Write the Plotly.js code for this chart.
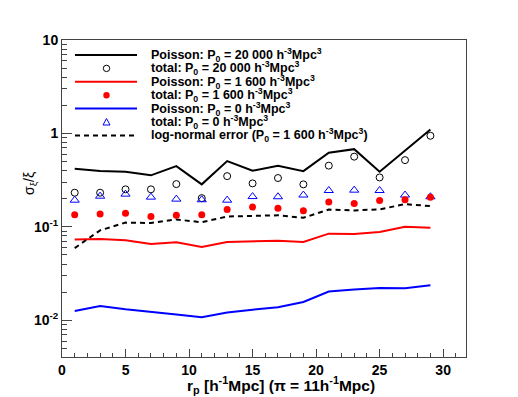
<!DOCTYPE html>
<html>
<head>
<meta charset="utf-8">
<script src="https://cdn.plot.ly/plotly-3.0.1.min.js"></script>
<style>html,body{margin:0;padding:0;background:#fff;}#chart{width:518px;height:397px;}</style>
</head>
<body>
<div id="chart"></div>
<script>
// ---- data ----
const rp = [1, 3, 5, 7, 9, 11, 13, 15, 17, 19, 21, 23, 25, 27, 29];
const poisson20000 = [0.419, 0.395, 0.389, 0.356, 0.447, 0.285, 0.506, 0.399, 0.452, 0.395, 0.622, 0.679, 0.389, 0.658, 1.10];
const total20000   = [0.232, 0.232, 0.252, 0.252, 0.287, 0.203, 0.349, 0.292, 0.333, 0.285, 0.452, 0.564, 0.338, 0.518, 0.944];
const poisson1600  = [0.0730, 0.0741, 0.0717, 0.0655, 0.0683, 0.0608, 0.0688, 0.0695, 0.0712, 0.0688, 0.0846, 0.0838, 0.0880, 0.1005, 0.0980];
const total1600    = [0.135, 0.137, 0.140, 0.129, 0.133, 0.135, 0.153, 0.163, 0.158, 0.149, 0.184, 0.178, 0.192, 0.195, 0.207];
const poisson0     = [0.0126, 0.0142, 0.0131, 0.0122, 0.0115, 0.0108, 0.0121, 0.0130, 0.0138, 0.0157, 0.0203, 0.0213, 0.0221, 0.0220, 0.0237];
const total0       = [0.193, 0.213, 0.224, 0.208, 0.198, 0.195, 0.193, 0.211, 0.210, 0.219, 0.245, 0.247, 0.245, 0.219, 0.210];
const lognormal1600 = [0.0593, 0.0918, 0.111, 0.110, 0.120, 0.112, 0.129, 0.130, 0.133, 0.125, 0.153, 0.150, 0.154, 0.175, 0.167];

const legendLabels = [
  'Poisson: P<sub>0</sub> = 20 000 h<sup>-3</sup>Mpc<sup>3</sup>',
  'total: P<sub>0</sub> = 20 000 h<sup>-3</sup>Mpc<sup>3</sup>',
  'Poisson: P<sub>0</sub> = 1 600 h<sup>-3</sup>Mpc<sup>3</sup>',
  'total: P<sub>0</sub> = 1 600 h<sup>-3</sup>Mpc<sup>3</sup>',
  'Poisson: P<sub>0</sub> = 0 h<sup>-3</sup>Mpc<sup>3</sup>',
  'total: P<sub>0</sub> = 0 h<sup>-3</sup>Mpc<sup>3</sup>',
  'log-normal error (P<sub>0</sub> = 1 600 h<sup>-3</sup>Mpc<sup>3</sup>)'
];
const yTickVals = [0.01, 0.1, 1, 10];
const yTickText = ['10<sup>-2</sup>', '10<sup>-1</sup>', '1', '10'];
const xTickVals = [0, 5, 10, 15, 20, 25, 30];
const xTitle = '<b>r<sub>p</sub> [h<sup>-1</sup>Mpc] (π = 11h<sup>-1</sup>Mpc)</b>';
const yTitle = 'σ<sub>ξ</sub>/ξ';

// ---- styling / layout ----
const W = 518, H = 397;
const M = {l: 62, r: 52, t: 40, b: 40};
const PW = W - M.l - M.r, PH = H - M.t - M.b;
const px2x = p => (p - M.l) / PW;
const py2y = p => 1 - (p - M.t) / PH;
const FONT = 'Liberation Sans, Arial, Helvetica, sans-serif';

const traces = [
  {x: rp, y: poisson20000, mode: 'lines', line: {color: '#000', width: 2}},
  {x: rp, y: poisson1600, mode: 'lines', line: {color: '#ff0000', width: 2}},
  {x: rp, y: poisson0, mode: 'lines', line: {color: '#0000ff', width: 2}},
  {x: rp, y: lognormal1600, mode: 'lines', line: {color: '#000', width: 2, dash: '5px,4px'}},
  {x: rp, y: total20000, mode: 'markers', marker: {symbol: 'circle-open', size: 7, color: '#000', line: {width: 1}}},
  {x: rp, y: total0, mode: 'markers', marker: {symbol: 'triangle-up-open', size: 8, color: '#0000ff', line: {width: 1}}},
  {x: rp, y: total1600, mode: 'markers', marker: {symbol: 'circle', size: 7, color: '#ff0000', line: {width: 0}}}
];
traces.forEach(t => { t.type = 'scatter'; t.showlegend = false; t.hoverinfo = 'skip'; });

// minor ticks for log axis
const yMinor = [];
[0.001, 0.01, 0.1, 1].forEach(d => { for (let k = 2; k <= 9; k++) yMinor.push(d * k); });
const xMinor = [];
for (let k = 0; k <= 31; k++) xMinor.push(k);

// custom compact legend
const shapes = [];
const annotations = [];
const rowY0 = 55, rowDY = 13.4;
const lineX0 = 75, lineX1 = 137, symX = 106.5, textX = 150;
const legendKinds = [
  {kind: 'line', color: '#000', dash: 'solid'},
  {kind: 'circle-open', color: '#000'},
  {kind: 'line', color: '#ff0000', dash: 'solid'},
  {kind: 'circle', color: '#ff0000'},
  {kind: 'line', color: '#0000ff', dash: 'solid'},
  {kind: 'triangle', color: '#0000ff'},
  {kind: 'line', color: '#000', dash: '5px,4px'}
];
legendKinds.forEach((k, i) => {
  const py = rowY0 + i * rowDY;
  if (k.kind === 'line') {
    shapes.push({type: 'line', xref: 'paper', yref: 'paper', x0: px2x(lineX0), x1: px2x(lineX1), y0: py2y(py), y1: py2y(py),
      line: {color: k.color, width: 2, dash: k.dash}});
  } else if (k.kind === 'triangle') {
    shapes.push({type: 'path', xref: 'paper', yref: 'paper', xsizemode: 'pixel', ysizemode: 'pixel',
      xanchor: px2x(symX), yanchor: py2y(py), path: 'M -3.5 -3 L 3.5 -3 L 0 3.5 Z',
      line: {color: k.color, width: 1}, fillcolor: 'rgba(0,0,0,0)'});
  } else {
    shapes.push({type: 'circle', xref: 'paper', yref: 'paper', xsizemode: 'pixel', ysizemode: 'pixel',
      xanchor: px2x(symX), yanchor: py2y(py), x0: -3.2, x1: 3.2, y0: -3.2, y1: 3.2,
      line: {color: k.color, width: k.kind === 'circle' ? 0 : 1},
      fillcolor: k.kind === 'circle' ? k.color : 'rgba(0,0,0,0)'});
  }
  annotations.push({text: legendLabels[i], xref: 'paper', yref: 'paper', x: px2x(textX), y: py2y(py),
    xanchor: 'left', yanchor: 'middle', showarrow: false, borderpad: 0,
    font: {family: FONT, size: 12.5, color: '#000', weight: 'bold'}});
});
annotations.push({text: xTitle, xref: 'paper', yref: 'paper', x: px2x(281), y: py2y(385),
  xanchor: 'center', yanchor: 'middle', showarrow: false, font: {family: FONT, size: 15.5, color: '#000'}});
annotations.push({text: yTitle, xref: 'paper', yref: 'paper', x: px2x(30), y: py2y(184), textangle: -90,
  xanchor: 'center', yanchor: 'middle', showarrow: false, font: {family: FONT, size: 14, color: '#000'}});

const layout = {
  width: W, height: H,
  margin: M,
  paper_bgcolor: '#fff', plot_bgcolor: '#fff',
  showlegend: false,
  xaxis: {
    range: [0, 31.8], showgrid: false, zeroline: false,
    showline: true, mirror: true, linecolor: '#444', linewidth: 1,
    tickmode: 'array', tickvals: xTickVals, ticktext: xTickVals.map(String),
    ticks: 'inside', ticklen: 8, tickwidth: 1, tickcolor: '#444',
    minor: {tickmode: 'array', tickvals: xMinor, ticks: 'inside', ticklen: 4, tickwidth: 1, tickcolor: '#444', showgrid: false},
    tickfont: {family: FONT, size: 14, color: '#000', weight: 'bold'}
  },
  yaxis: {
    type: 'log', range: [-2.393, 1.0], showgrid: false, zeroline: false,
    showline: true, mirror: true, linecolor: '#444', linewidth: 1,
    tickmode: 'array', tickvals: yTickVals, ticktext: yTickText,
    ticks: 'inside', ticklen: 10, tickwidth: 1, tickcolor: '#444',
    minor: {tickmode: 'array', tickvals: yMinor, ticks: 'inside', ticklen: 5, tickwidth: 1, tickcolor: '#444', showgrid: false},
    tickfont: {family: FONT, size: 14, color: '#000', weight: 'bold'}
  },
  shapes: shapes,
  annotations: annotations
};

Plotly.newPlot('chart', traces, layout, {staticPlot: true, displayModeBar: false});
</script>
</body>
</html>
